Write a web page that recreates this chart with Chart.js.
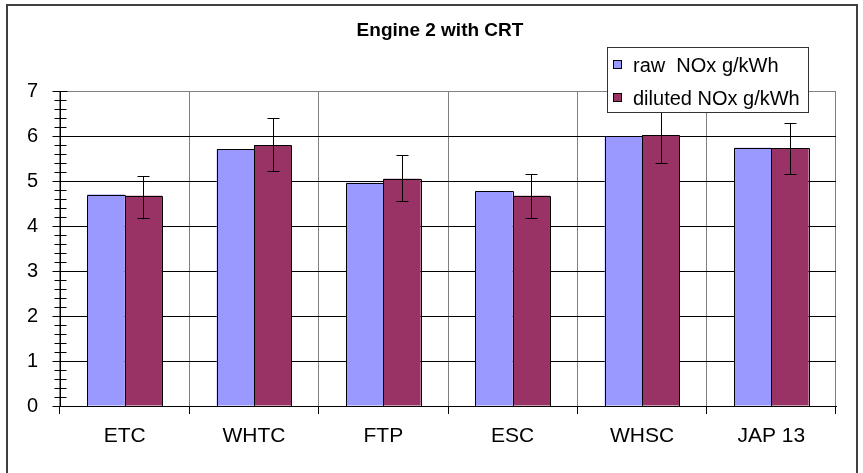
<!DOCTYPE html>
<html>
<head>
<meta charset="utf-8">
<style>
  html, body { margin: 0; padding: 0; background: #fff; }
  #wrap { width: 863px; height: 473px; position: relative; }
</style>
<script src="https://cdn.jsdelivr.net/npm/chart.js@4.4.1/dist/chart.umd.min.js"></script>
</head>
<body>
<div id="wrap"><canvas id="chart" width="863" height="473"></canvas></div>
<script>
// Chart data
const chartTitle = 'Engine 2 with CRT';
const categories = ['ETC', 'WHTC', 'FTP', 'ESC', 'WHSC', 'JAP 13'];
const rawNox = [4.70, 5.71, 4.96, 4.78, 5.99, 5.74];
const dilutedNox = [4.67, 5.80, 5.05, 4.67, 6.02, 5.73];
const dilutedLow = [4.18, 5.22, 4.55, 4.18, 5.41, 5.15];
const dilutedHigh = [5.12, 6.39, 5.58, 5.16, 6.63, 6.28];
const yMin = 0;
const yMax = 7;

const FONT = "'Liberation Sans', Arial, sans-serif";

function isWhole(v) {
    return Math.abs(v - Math.round(v)) < 1e-6;
}

// Outer frame + title
const framePlugin = {
    id: 'frame',
    beforeDraw(chart) {
        const ctx = chart.ctx;
        ctx.save();
        ctx.fillStyle = '#fff';
        ctx.fillRect(0, 0, chart.width, chart.height);
        ctx.strokeStyle = '#404040';
        ctx.lineWidth = 2;
        ctx.strokeRect(7, 5, 850, 500);
        ctx.fillStyle = '#000';
        ctx.font = 'bold 19px ' + FONT;
        ctx.textAlign = 'center';
        ctx.textBaseline = 'middle';
        ctx.fillText(chartTitle, 440, 31);
        ctx.restore();
    }
};

// Crisp bar outlines, error bars on diluted series, crossing ticks on the value axis
const errorBarPlugin = {
    id: 'errorBars',
    afterDatasetsDraw(chart) {
        const ctx = chart.ctx;
        const y = chart.scales.y;
        ctx.save();
        ctx.strokeStyle = '#000';
        ctx.lineWidth = 1;

        // bar outlines snapped to pixels
        chart.data.datasets.forEach((ds, di) => {
            chart.getDatasetMeta(di).data.forEach(bar => {
                const l = Math.round(bar.x - bar.width / 2) + 0.5;
                const r = Math.round(bar.x + bar.width / 2) + 0.5;
                const t = Math.round(bar.y) + 0.5;
                const b = Math.round(bar.base) + 0.5;
                ctx.beginPath();
                ctx.moveTo(l, b);
                ctx.lineTo(l, t);
                ctx.lineTo(r, t);
                ctx.lineTo(r, b);
                ctx.stroke();
            });
        });

        const meta = chart.getDatasetMeta(1);
        meta.data.forEach((bar, i) => {
            const x = Math.round(bar.x) + 0.5;
            const top = Math.round(y.getPixelForValue(dilutedHigh[i])) + 0.5;
            const bot = Math.round(y.getPixelForValue(dilutedLow[i])) + 0.5;
            ctx.beginPath();
            ctx.moveTo(x, top);
            ctx.lineTo(x, bot);
            ctx.moveTo(x - 6, top);
            ctx.lineTo(x + 6, top);
            ctx.moveTo(x - 6, bot);
            ctx.lineTo(x + 6, bot);
            ctx.stroke();
        });

        // axis tick marks that cross the axis line
        const ax = Math.round(chart.chartArea.left) + 0.5;
        ctx.beginPath();
        y.ticks.forEach(t => {
            const py = Math.round(y.getPixelForValue(t.value)) + 0.5;
            const major = isWhole(t.value);
            ctx.moveTo(ax - (major ? 8 : 6), py);
            ctx.lineTo(ax + (major ? 7 : 6), py);
        });
        ctx.stroke();
        ctx.restore();
    }
};

// Legend box drawn over the plot, as in the original
const legendBoxPlugin = {
    id: 'legendBox',
    afterDraw(chart) {
        const ctx = chart.ctx;
        const bx = 607, by = 47, bw = 201, bh = 65;
        ctx.save();
        ctx.fillStyle = '#fff';
        ctx.fillRect(bx, by, bw, bh);
        ctx.strokeStyle = '#333';
        ctx.lineWidth = 1;
        ctx.strokeRect(bx + 0.5, by + 0.5, bw, bh);
        ctx.font = '20px ' + FONT;
        ctx.textBaseline = 'middle';
        ctx.textAlign = 'left';
        const rows = [65, 98];
        chart.data.datasets.forEach((ds, i) => {
            const cy = rows[i];
            ctx.fillStyle = ds.backgroundColor;
            ctx.fillRect(613, cy - 5, 9, 9);
            ctx.strokeStyle = '#000';
            ctx.strokeRect(613.5, cy - 4.5, 8, 8);
            ctx.fillStyle = '#000';
            ctx.fillText(ds.label, 633, cy + 1);
        });
        ctx.restore();
    }
};

new Chart(document.getElementById('chart'), {
    type: 'bar',
    data: {
        labels: categories,
        datasets: [
            {
                label: 'raw  NOx g/kWh',
                data: rawNox,
                backgroundColor: '#9999ff',
                borderWidth: 0,
                categoryPercentage: 0.577,
                barPercentage: 1.0
            },
            {
                label: 'diluted NOx g/kWh',
                data: dilutedNox,
                backgroundColor: '#993366',
                borderWidth: 0,
                categoryPercentage: 0.577,
                barPercentage: 1.0
            }
        ]
    },
    options: {
        responsive: false,
        animation: false,
        layout: { padding: { top: 91, right: 27, left: 0, bottom: 0 } },
        plugins: {
            legend: { display: false },
            title: { display: false },
            tooltip: { enabled: false }
        },
        scales: {
            x: {
                offset: true,
                grid: {
                    offset: true,
                    color: '#808080',
                    tickColor: '#000',
                    tickLength: 8,
                    lineWidth: 1
                },
                border: { color: '#000', width: 1 },
                ticks: {
                    color: '#000',
                    font: { family: FONT, size: 21 },
                    padding: 10,
                    maxRotation: 0
                },
                afterFit(scale) { scale.height = 67; }
            },
            y: {
                min: yMin,
                max: yMax,
                grid: {
                    drawTicks: false,
                    color: ctx => {
                        const v = ctx.tick.value;
                        if (!isWhole(v)) return 'rgba(0,0,0,0)';
                        return v >= yMax ? '#808080' : '#000';
                    }
                },
                border: { color: '#000', width: 1 },
                ticks: {
                    stepSize: 0.2,
                    autoSkip: false,
                    color: '#000',
                    font: { family: FONT, size: 20 },
                    padding: 22,
                    callback: v => isWhole(v) ? String(Math.round(v)) : ''
                },
                afterFit(scale) { scale.width = 60; }
            }
        }
    },
    plugins: [framePlugin, errorBarPlugin, legendBoxPlugin]
});
</script>
</body>
</html>
